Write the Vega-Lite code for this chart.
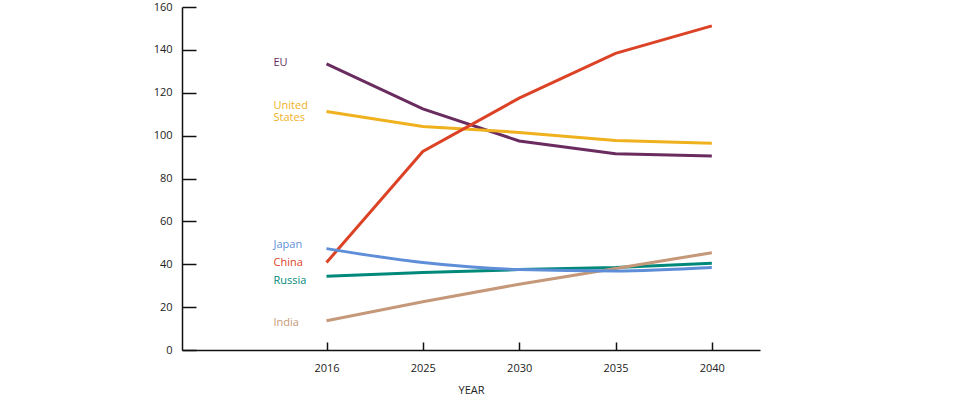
{
  "$schema": "https://vega.github.io/schema/vega-lite/v6.json",
  "width": 578,
  "height": 343,
  "autosize": {"type": "none"},
  "padding": {"left": 182, "top": 7, "right": 215, "bottom": 53},
  "background": "white",
  "config": {
    "view": {"stroke": null},
    "font": "Open Sans",
    "axis": {"grid": false, "domainColor": "#111", "tickColor": "#111", "domainWidth": 1.5, "tickWidth": 1.5, "labelColor": "#222", "labelFont": "Open Sans", "labelFontSize": 11, "titleFont": "Open Sans", "titleFontSize": 11, "titleFontWeight": "normal", "titleColor": "#222"}
  },
  "datasets": {
    "series": [
      {"country": "EU", "year": "2016", "value": 133.5},
      {"country": "EU", "year": "2025", "value": 112.5},
      {"country": "EU", "year": "2030", "value": 97.5},
      {"country": "EU", "year": "2035", "value": 91.5},
      {"country": "EU", "year": "2040", "value": 90.5},
      {"country": "United States", "year": "2016", "value": 111.3},
      {"country": "United States", "year": "2025", "value": 104.3},
      {"country": "United States", "year": "2030", "value": 101.5},
      {"country": "United States", "year": "2035", "value": 97.7},
      {"country": "United States", "year": "2040", "value": 96.4},
      {"country": "China", "year": "2016", "value": 40.8},
      {"country": "China", "year": "2025", "value": 92.6},
      {"country": "China", "year": "2030", "value": 117.5},
      {"country": "China", "year": "2035", "value": 138.4},
      {"country": "China", "year": "2040", "value": 151.2},
      {"country": "Japan", "year": "2016", "value": 47.3},
      {"country": "Japan", "year": "2025", "value": 40.8},
      {"country": "Japan", "year": "2030", "value": 37.5},
      {"country": "Japan", "year": "2035", "value": 36.9},
      {"country": "Japan", "year": "2040", "value": 38.5},
      {"country": "Russia", "year": "2016", "value": 34.4},
      {"country": "Russia", "year": "2025", "value": 36.1},
      {"country": "Russia", "year": "2030", "value": 37.5},
      {"country": "Russia", "year": "2035", "value": 38.5},
      {"country": "Russia", "year": "2040", "value": 40.5},
      {"country": "India", "year": "2016", "value": 13.6},
      {"country": "India", "year": "2025", "value": 22.5},
      {"country": "India", "year": "2030", "value": 30.7},
      {"country": "India", "year": "2035", "value": 38.0},
      {"country": "India", "year": "2040", "value": 45.4}
    ],
    "labels": [
      {"country": "EU", "label": "EU", "year": "2016", "value": 134},
      {"country": "United States", "label": "United\nStates", "year": "2016", "value": 113.6},
      {"country": "Japan", "label": "Japan", "year": "2016", "value": 49},
      {"country": "China", "label": "China", "year": "2016", "value": 40.6},
      {"country": "Russia", "label": "Russia", "year": "2016", "value": 32.3},
      {"country": "India", "label": "India", "year": "2016", "value": 12.7}
    ]
  },
  "layer": [
    {
      "data": {"name": "series"},
      "transform": [{"filter": "datum.country !== 'Japan'"}],
      "mark": {"type": "line", "strokeWidth": 3},
      "encoding": {
        "x": {"field": "year", "type": "ordinal", "scale": {"type": "point", "domain": ["pad", "2016", "2025", "2030", "2035", "2040"], "padding": 0.5},
              "axis": {"values": ["2016", "2025", "2030", "2035", "2040"], "title": "YEAR", "labelAngle": 0, "tickSize": -8, "labelPadding": 20, "titlePadding": 11}},
        "y": {"field": "value", "type": "quantitative", "scale": {"domain": [0, 160], "nice": false},
              "axis": {"values": [0, 20, 40, 60, 80, 100, 120, 140, 160], "title": null, "tickSize": -14, "labelPadding": 24}},
        "color": {"field": "country", "type": "nominal", "legend": null,
                  "scale": {"domain": ["EU", "United States", "China", "Japan", "Russia", "India"], "range": ["#6a2c5f", "#efb11e", "#dc4326", "#5e8ed8", "#00897a", "#c6987a"]}}
      }
    },
    {
      "data": {"name": "series"},
      "transform": [{"filter": "datum.country === 'Japan'"}],
      "mark": {"type": "line", "strokeWidth": 3, "interpolate": "monotone"},
      "encoding": {
        "x": {"field": "year", "type": "ordinal"},
        "y": {"field": "value", "type": "quantitative"},
        "color": {"field": "country", "type": "nominal"}
      }
    },
    {
      "data": {"name": "labels"},
      "mark": {"type": "text", "align": "left", "baseline": "middle", "dx": -53, "fontSize": 11, "lineBreak": "\n", "lineHeight": 11.5, "font": "Open Sans"},
      "encoding": {
        "x": {"field": "year", "type": "ordinal"},
        "y": {"field": "value", "type": "quantitative"},
        "text": {"field": "label"},
        "color": {"field": "country", "type": "nominal"}
      }
    }
  ]
}
